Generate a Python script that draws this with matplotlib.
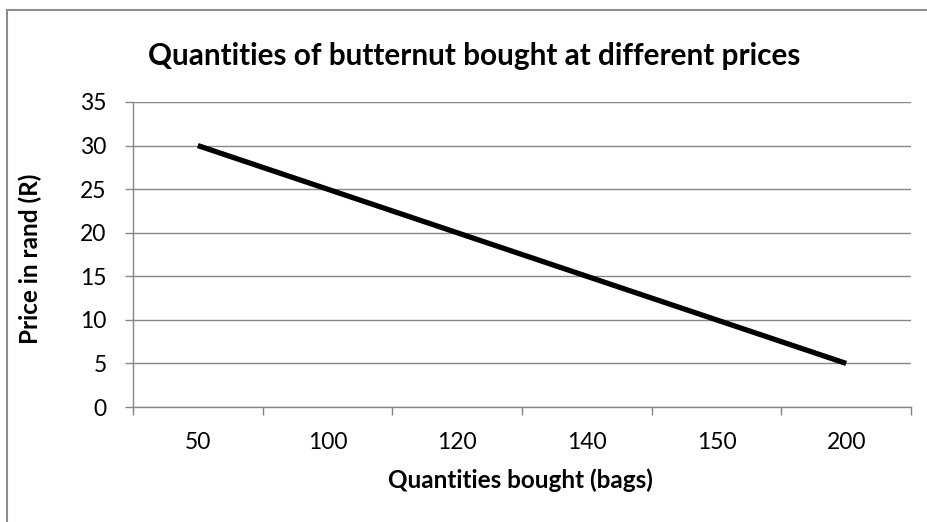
import matplotlib

matplotlib.use("Agg")
import matplotlib.pyplot as plt
from matplotlib.lines import Line2D
import numpy as np

plt.rcParams["font.family"] = ["Lato", "DejaVu Sans"]

quantities = ["50", "100", "120", "140", "150", "200"]
prices = [30, 25, 20, 15, 10, 5]
y_ticks = [0, 5, 10, 15, 20, 25, 30, 35]

GRID = "#868686"

fig = plt.figure(figsize=(9.28, 5.22), dpi=100)
ax = fig.add_axes([0.1433, 0.2203, 0.8384, 0.5843])

x = np.arange(len(quantities))
ax.plot(x, prices, color="black", lw=3.8, solid_capstyle="butt", zorder=3)

ax.set_xlim(-0.5, len(quantities) - 0.5)
ax.set_ylim(0, 35)
ax.set_yticks(y_ticks)
ax.grid(axis="y", color=GRID, lw=1)
ax.set_axisbelow(True)

# category axis: tick marks between categories, labels centred on them
ax.set_xticks(np.arange(-0.5, len(quantities)))
ax.set_xticklabels([])
ax.set_xticks(x, minor=True)
ax.set_xticklabels(quantities, minor=True)
ax.tick_params(axis="x", which="major", length=6, width=1, color=GRID, direction="out")
ax.tick_params(axis="x", which="minor", length=0, pad=18, labelsize=16.5)
ax.tick_params(axis="y", length=6, width=1, color=GRID, pad=13, labelsize=16.5)

for s in ("top", "right"):
    ax.spines[s].set_visible(False)
for s in ("left", "bottom"):
    ax.spines[s].set_color(GRID)
    ax.spines[s].set_linewidth(1)

fig.text(0.511, 0.893, "Quantities of butternut bought at different prices",
         ha="center", va="center", fontsize=21.4, fontweight="bold")
fig.text(0.561, 0.08, "Quantities bought (bags)", ha="center", va="center",
         fontsize=17.5, fontweight="bold")
fig.text(0.033, 0.504, "Price in rand (R)", ha="center", va="center",
         fontsize=17.5, fontweight="bold", rotation=90)

# chart frame (only left and top edges visible in the crop)
fig.add_artist(Line2D([7 / 928, 7 / 928], [0, 1 - 10 / 522], color="#8c8c8c", lw=1.5))
fig.add_artist(Line2D([7 / 928, 1], [1 - 10 / 522, 1 - 10 / 522], color="#8c8c8c", lw=1.5))

fig.savefig("out.png", dpi=100)
